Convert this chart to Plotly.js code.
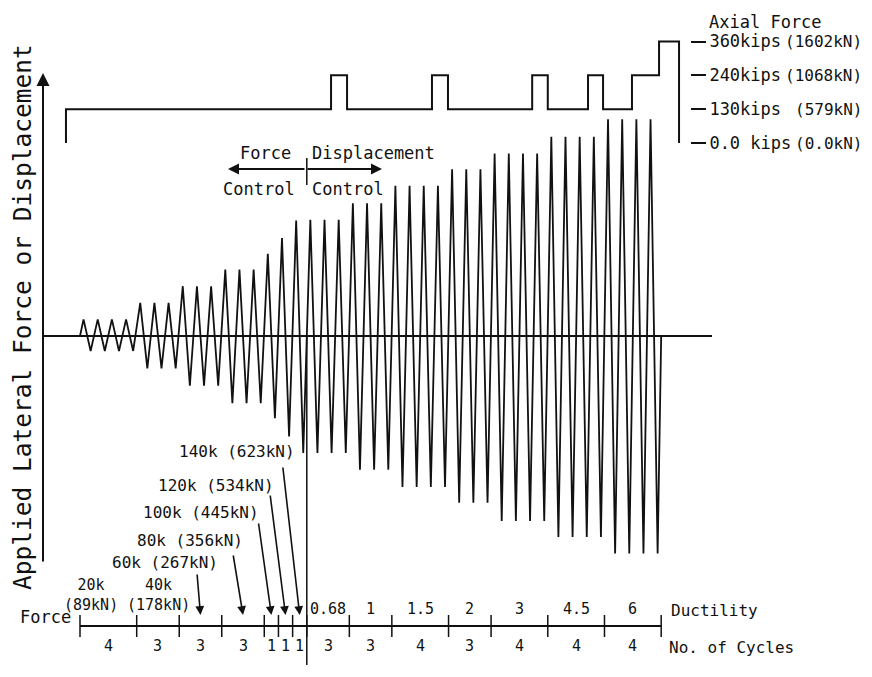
<!DOCTYPE html>
<html>
<head>
<meta charset="utf-8">
<script src="https://cdn.plot.ly/plotly-3.0.1.min.js"></script>
<style>html,body{margin:0;padding:0;background:#fff;}#chart{width:872px;height:677px;}</style>
</head>
<body>
<div id="chart"></div>
<script>
// ---- data ----
const forceLabels = ['20k','40k','60k','80k','100k','120k','140k'];
const forceKN = ['(89kN)','(178kN)','(267kN)','(356kN)','(445kN)','(534kN)','(623kN)'];
const forceCycles = [4,3,3,3,1,1,1];
const forcePeak = [1.0,2.0,3.0,4.0,4.95,5.9,6.95];
const forceTrough = [0.9,1.95,3.0,4.05,4.95,6.05,7.05];
const ductility = ['0.68','1','1.5','2','3','4.5','6'];
const dispCycles = [3,3,4,3,4,4,4];
const dispPeak = [7.0,8.0,9.05,10.05,11.0,12.0,13.05];
const dispTrough = [7.05,8.05,9.1,10.05,11.15,12.1,13.1];
const axialLevels = ['0.0 kips','130kips','240kips','360kips'];
const axialKN = ['(0.0kN)','(579kN)','(1068kN)','(1602kN)'];
const axialX = [-0.99,-0.99,17.71,18.84,24.83,25.96,31.9,33.0,35.84,36.9,38.94,40.85,42.26];
const axialY = ['0.0 kips','130kips','240kips','130kips','240kips','130kips','240kips','130kips','240kips','130kips','240kips','360kips','0.0 kips'];

// ---- build the loading history polyline from the groups ----
const wx = [0], wy = [0];
let c = 0;
function addGroups(counts, peaks, troughs){
  counts.forEach((n,g)=>{
    for(let k=0;k<n;k++){
      wx.push(c+0.25); wy.push(peaks[g]);
      wx.push(c+0.75); wy.push(-troughs[g]);
      c++;
    }
  });
}
addGroups(forceCycles, forcePeak, forceTrough);
const nForce = c;
addGroups(dispCycles, dispPeak, dispTrough);
const nTotal = c;
wx.push(nTotal); wy.push(0);

// group boundaries and midpoints
const fB=[0], dB=[nForce];
forceCycles.forEach(n=>fB.push(fB[fB.length-1]+n));
dispCycles.forEach(n=>dB.push(dB[dB.length-1]+n));
const fMid = forceCycles.map((n,i)=>fB[i]+n/2);
const dMid = dispCycles.map((n,i)=>dB[i]+n/2);

// ---- layout helpers (pixel -> paper) ----
const W=872, H=677;
const PX = p=>p/W, PY = p=>1-p/H;
const FONT = 'DejaVu Sans Mono';
const black = '#111';

const traces = [
  {x:wx, y:wy, type:'scatter', mode:'lines', line:{color:black,width:1.8}, hoverinfo:'skip', showlegend:false},
  {x:axialX, y:axialY, type:'scatter', mode:'lines', yaxis:'y2', line:{color:black,width:2,shape:'hv'}, hoverinfo:'skip', showlegend:false}
];

const shapes = [];
// zero line
shapes.push({type:'line', xref:'paper', yref:'y', x0:PX(43), x1:PX(712), y0:0, y1:0, line:{color:black,width:2}});
// bottom scale line
shapes.push({type:'line', xref:'x', yref:'paper', x0:0, x1:nTotal, y0:PY(626), y1:PY(626), line:{color:black,width:2}});
// bottom scale ticks
fB.concat(dB.slice(1)).forEach(b=>{
  shapes.push({type:'line', xref:'x', yref:'paper', x0:b, x1:b, y0:PY(615), y1:PY(637), line:{color:black,width:1.5}});
});
// force/displacement divider
shapes.push({type:'line', xref:'x', yref:'paper', x0:nForce, x1:nForce, y0:PY(336), y1:PY(665), line:{color:black,width:1.5}});
shapes.push({type:'line', xref:'x', yref:'paper', x0:nForce, x1:nForce, y0:PY(158), y1:PY(185), line:{color:black,width:1.5}});

const ann = [];
const base = {xref:'paper', yref:'paper', showarrow:false, xanchor:'center', yanchor:'middle'};
const T = (text,x,y,opt)=>Object.assign({text, x, y}, base, {font:{family:FONT,size:16,color:black}}, opt||{});
const D = (text,x,y,size)=>Object.assign({text, x, y}, base, {xref:'x', font:{family:FONT,size:size,color:black}});
// axis title
ann.push(T('Applied Lateral Force or Displacement', PX(22), PY(317), {textangle:-90, font:{family:FONT,size:24.5,color:black}}));
// left axis arrow
ann.push({x:PX(43), y:PY(73), xref:'paper', yref:'paper', text:'', showarrow:true, ax:0, ay:490, arrowhead:2, arrowsize:1.3, arrowwidth:2, arrowcolor:black, standoff:0, startstandoff:0});
// axial force header and kN labels
ann.push(T('Axial Force', PX(765), PY(22), {font:{family:FONT,size:17,color:black}}));
axialKN.forEach((t,i)=>ann.push({text:t, x:PX(864), xanchor:'right', yanchor:'middle', xref:'paper', y:i, yref:'y2', showarrow:false, font:{family:FONT,size:16,color:black}}));
// force/displacement control text and arrows
ann.push(T('Force', PX(265), PY(153), {font:{family:FONT,size:17,color:black}}));
ann.push(T('Displacement', PX(373), PY(153), {font:{family:FONT,size:17,color:black}}));
ann.push(T('Control', PX(259), PY(189), {font:{family:FONT,size:17,color:black}}));
ann.push(T('Control', PX(348), PY(189), {font:{family:FONT,size:17,color:black}}));
ann.push({x:PX(228), y:PY(169), xref:'paper', yref:'paper', text:'', showarrow:true, ax:78, ay:0, arrowhead:2, arrowsize:1.1, arrowwidth:2, arrowcolor:black, standoff:0, startstandoff:0});
ann.push({x:PX(382), y:PY(169), xref:'paper', yref:'paper', text:'', showarrow:true, ax:-76, ay:0, arrowhead:2, arrowsize:1.1, arrowwidth:2, arrowcolor:black, standoff:0, startstandoff:0});
// force level labels
const lblPos = [null,null,[165,562],[190,540],[201,512],[216,485],[237,452]];
const tailOff = [null,null,[-3.5,-42],[-10,-61],[-13,-93],[-15.5,-121],[-17,-149]];
forceLabels.forEach((f,i)=>{
  if(i<2) return;
  ann.push(T(f+' '+forceKN[i], PX(lblPos[i][0]), PY(lblPos[i][1])));
  ann.push({x:fMid[i], y:PY(615), xref:'x', yref:'paper', text:'', showarrow:true, ax:tailOff[i][0], ay:tailOff[i][1], arrowhead:2, arrowsize:1.1, arrowwidth:1.6, arrowcolor:black, standoff:0, startstandoff:0});
});
ann.push(T(forceLabels[0]+'<br>'+forceKN[0], PX(91), PY(595), {borderpad:0, font:{family:FONT,size:15,color:black}}));
ann.push(T(forceLabels[1]+'<br>'+forceKN[1], PX(158), PY(595), {borderpad:0, font:{family:FONT,size:15,color:black}}));
// bottom scale labels
ann.push(T('Force', PX(73), PY(617), {xanchor:'right', font:{family:FONT,size:17,color:black}}));
forceCycles.forEach((n,i)=>ann.push(D(String(n), fMid[i], PY(646), 15)));
dispCycles.forEach((n,i)=>ann.push(D(String(n), dMid[i], PY(646), 15)));
ductility.forEach((d,i)=>ann.push(D(d, dMid[i], PY(609), 15)));
ann.push(T('Ductility', PX(669), PY(610), {xanchor:'left'}));
ann.push(T('No. of Cycles', PX(667), PY(647), {xanchor:'left'}));

// axis ranges so that cycle c sits at pixel 80+14.175c and amplitude u at 336-16.6u
const xr = [-80/14.175, (W-80)/14.175];
const yr = [(336-H)/16.6, 336/16.6];
const y2r = [(143-H)/33.83, 143/33.83];

const layout = {
  width:W, height:H, margin:{l:0,r:0,t:0,b:0},
  paper_bgcolor:'#fff', plot_bgcolor:'#fff',
  showlegend:false,
  xaxis:{range:xr, visible:false, fixedrange:true},
  yaxis:{range:yr, visible:false, fixedrange:true},
  yaxis2:{type:'category', categoryarray:axialLevels, categoryorder:'array', overlaying:'y', side:'right', anchor:'free', position:PX(690),
          range:y2r, showgrid:false, zeroline:false, showline:false, ticks:'outside', ticklen:15, tickwidth:2, tickcolor:black,
          tickfont:{family:FONT,size:17,color:black}, fixedrange:true},
  shapes, annotations:ann
};
Plotly.newPlot('chart', traces, layout, {displayModeBar:false, staticPlot:true});
</script>
</body>
</html>
